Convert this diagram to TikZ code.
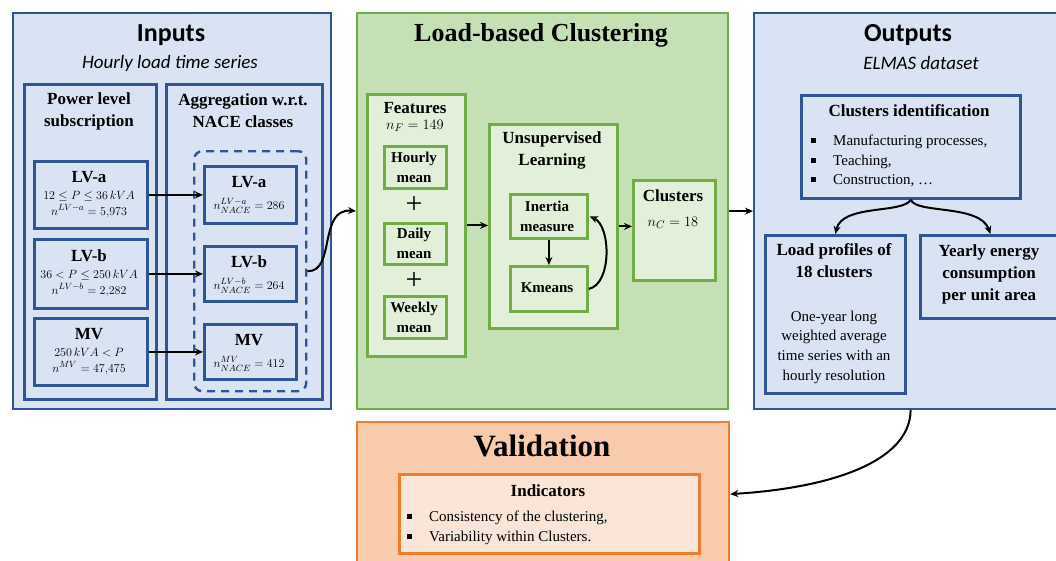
\documentclass[tikz,border=0pt]{standalone}
\usepackage{fontspec}
\setmainfont{Liberation Serif}
\newfontfamily\calibri{Carlito}
\usetikzlibrary{arrows.meta,shadows}

\definecolor{bluedraw}{HTML}{2F5597}
\definecolor{bluefill}{HTML}{DAE3F3}
\definecolor{greendraw}{HTML}{70AD47}
\definecolor{greenfill}{HTML}{C5E0B4}
\definecolor{greenlight}{HTML}{E2F0D9}
\definecolor{orangedraw}{HTML}{ED7D31}
\definecolor{orangefill}{HTML}{F8CBAD}
\definecolor{orangelight}{HTML}{FBE5D6}

\newcommand{\sqbullet}{\raisebox{2.6pt}{\rule{5pt}{5pt}}\hspace{17pt}}

\begin{document}
\begin{tikzpicture}[x=1pt,y=-1pt,
  panel/.style={draw, line width=2.2pt, rectangle, inner sep=0pt, anchor=north west},
  bluepanel/.style={panel, draw=bluedraw, fill=bluefill},
  greenpanel/.style={panel, draw=greendraw, fill=greenfill},
  orangepanel/.style={panel, draw=orangedraw, fill=orangefill},
  bluebox/.style={panel, draw=bluedraw, fill=bluefill, line width=2.8pt},
  greenbox/.style={panel, draw=greendraw, fill=greenlight, line width=2.8pt},
  shadebox/.style={greenbox, drop shadow={opacity=0.3, shadow xshift=2pt, shadow yshift=-2pt}},
  orangebox/.style={panel, draw=orangedraw, fill=orangelight, line width=2.8pt},
  arr/.style={-{Stealth[length=8pt,width=7pt]}, line width=2pt},
  carltitle/.style={font=\calibri\fontsize{26}{30}\selectfont\bfseries},
  carlsub/.style={font=\calibri\fontsize{19}{22}\selectfont\itshape},
  bigtitle/.style={font=\fontsize{26}{30}\selectfont\bfseries},
  head/.style={font=\fontsize{17}{22}\selectfont\bfseries, align=center, inner sep=0pt},
  small/.style={font=\fontsize{15}{20}\selectfont\bfseries, align=center, inner sep=0pt},
  mth/.style={font=\fontsize{12.5}{16}\selectfont, align=center, inner sep=0pt},
  mthR/.style={font=\fontsize{13}{16}\selectfont, align=center, inner sep=0pt},
  body/.style={font=\fontsize{15}{20}\selectfont, inner sep=0pt},
]
\useasboundingbox (0,0) rectangle (1056,560);
\clip (0,0) rectangle (1056,560);
\fill[white] (0,0) rectangle (1056,560);

% ---------- panels ----------
\node[bluepanel, minimum width=318pt, minimum height=396pt] (inputs) at (12,12) {};
\node[greenpanel, minimum width=371pt, minimum height=396pt] (clust) at (356,12) {};
\node[bluepanel, minimum width=317pt, minimum height=396pt] (outputs) at (753,12) {};
\node[orangepanel, minimum width=372pt, minimum height=144pt] (valid) at (356,421) {};

\node[carltitle] (tin) at (171,35) {Inputs};
\node[carlsub] (sin) at (170,63) {Hourly load time series};
\node[bigtitle] (tcl) at (541,35) {Load-based Clustering};
\node[carltitle] (tout) at (908,35) {Outputs};
\node[carlsub] (sout) at (921,63) {ELMAS dataset};

% ---------- inputs ----------
\node[bluebox, minimum width=132pt, minimum height=315pt] (power) at (23,83) {};
\node[bluebox, minimum width=156pt, minimum height=315pt] (aggr) at (165,83) {};
\node[head] (tpower) at (89,111) {Power level\\subscription};
\node[head] (taggr) at (243,111) {Aggregation w.r.t.\\NACE classes};

\node[bluebox, minimum width=113pt, minimum height=67pt] (lvaL) at (33,160) {};
\node[bluebox, minimum width=113pt, minimum height=69pt] (lvbL) at (33,238) {};
\node[bluebox, minimum width=113pt, minimum height=67pt] (mvL) at (33,317) {};

\node[head] (tlvaL) at (89,177) {LV-a};
\node[mth] (mlvaL) at (89,204) {$12 \le P \le 36\,kVA$\\$n^{LV-a} = 5{,}973$};
\node[head] (tlvbL) at (89,256) {LV-b};
\node[mth] (mlvbL) at (89,283) {$36 < P \le 250\,kVA$\\$n^{LV-b} = 2{,}282$};
\node[head] (tmvL) at (89,334) {MV};
\node[mth] (mmvL) at (89,361) {$250\,kVA < P$\\$n^{MV} = 47{,}475$};

\node[draw=bluedraw, line width=2.4pt, dash pattern=on 8pt off 6pt, rounded corners=8pt,
      rectangle, minimum width=112pt, minimum height=240pt, anchor=north west] (group) at (193,150) {};

\node[bluebox, minimum width=92pt, minimum height=57pt] (lvaR) at (203,165) {};
\node[bluebox, minimum width=92pt, minimum height=55pt] (lvbR) at (203,245) {};
\node[bluebox, minimum width=92pt, minimum height=55pt] (mvR) at (203,323) {};

\node[head] (tlvaR) at (249,182) {LV-a};
\node[mthR] (mlvaR) at (249,206) {$n^{LV-a}_{NACE} = 286$};
\node[head] (tlvbR) at (249,262) {LV-b};
\node[mthR] (mlvbR) at (249,286) {$n^{LV-b}_{NACE} = 264$};
\node[head] (tmvR) at (249,340) {MV};
\node[mthR] (mmvR) at (249,364) {$n^{\raisebox{0.8pt}{$\scriptstyle MV$}}_{NACE} = 412$};

\draw[arr] (lvaL.east) -- (lvaR.west);
\draw[arr] (lvbL.east) -- (lvbR.west);
\draw[arr] (mvL.east) -- (mvR.west);

% ---------- clustering ----------
\node[greenbox, minimum width=98pt, minimum height=262pt] (feat) at (366,93) {};
\node[head] (tfeat) at (415,108) {Features};
\node[mth, font=\fontsize{15}{18}\selectfont] (nfeat) at (415,126) {$n_F = 149$};

\node[shadebox, minimum width=62pt, minimum height=42pt] (hourly) at (383,145) {};
\node[small] (thourly) at (414,167) {Hourly\\mean};
\node[font=\fontsize{30}{30}\selectfont, inner sep=0pt] (plusA) at (414,205) {+};
\node[shadebox, minimum width=62pt, minimum height=41pt] (daily) at (383,222) {};
\node[small] (tdaily) at (414,243) {Daily\\mean};
\node[font=\fontsize{30}{30}\selectfont, inner sep=0pt] (plusB) at (414,281) {+};
\node[shadebox, minimum width=62pt, minimum height=42pt] (weekly) at (383,295) {};
\node[small] (tweekly) at (414,317) {Weekly\\mean};

\node[greenbox, minimum width=128pt, minimum height=204pt] (unsup) at (488,123) {};
\node[head] (tunsup) at (552,150) {Unsupervised\\Learning};

\node[shadebox, minimum width=77pt, minimum height=44pt] (inertia) at (509,193) {};
\node[small] (tinertia) at (547,216) {Inertia\\measure};
\node[shadebox, minimum width=77pt, minimum height=45pt] (kmeans) at (509,265) {};
\node[small] (tkmeans) at (547,288) {Kmeans};

\node[greenbox, minimum width=82pt, minimum height=100pt] (clusters) at (632,179) {};
\node[head] (tclusters) at (673,196) {Clusters};
\node[mth, font=\fontsize{15}{18}\selectfont] (nclusters) at (673,223) {$n_C = 18$};

\draw[arr] (feat.east) -- (unsup.west |- feat.east);
\draw[arr] (inertia.south) -- (kmeans.north);
\draw[arr] (kmeans.east) .. controls (612,284) and (611,226) .. ([xshift=1pt]inertia.east);
\draw[arr] (unsup.east) -- (clusters.west |- unsup.east);

% ---------- outputs ----------
\node[bluebox, minimum width=219pt, minimum height=103pt] (ident) at (800,94) {};
\node[head] (tident) at (909,111) {Clusters identification};
\node[body, anchor=west] (bA) at (811,142) {\sqbullet Manufacturing processes,};
\node[body, anchor=west] (bB) at (811,162) {\sqbullet Teaching,};
\node[body, anchor=west] (bC) at (811,181) {\sqbullet Construction, \dots};

\node[bluebox, minimum width=140pt, minimum height=158pt] (profiles) at (764,234) {};
\node[head] (tprofiles) at (834,261) {Load profiles of\\18 clusters};
\node[body, align=center, font=\fontsize{15}{19.7}\selectfont] (dprofiles) at (834,347)
  {One-year long\\weighted average\\time series with an\\hourly resolution};

\node[bluebox, minimum width=140pt, minimum height=83pt] (yearly) at (919,234) {};
\node[head] (tyearly) at (989,274) {Yearly energy\\consumption\\per unit area};

\draw[arr] (ident.south) .. controls (902,214) and (842,204) .. (profiles.north);
\draw[arr] (ident.south) .. controls (916,214) and (980,204) .. (yearly.north);

% ---------- validation ----------
\node[font=\fontsize{31}{34}\selectfont\bfseries] (tvalid) at (542,446) {Validation};
\node[orangebox, minimum width=300pt, minimum height=79pt] (indic) at (398,473) {};
\node[head] (tindic) at (548,491) {Indicators};
\node[body, anchor=west] (vA) at (407,518) {\sqbullet Consistency of the clustering,};
\node[body, anchor=west] (vB) at (407,538) {\sqbullet Variability within Clusters.};

% ---------- flow between panels ----------
\draw[arr] (group.east) .. controls (336,272) and (318,208) .. (clust.west);
\draw[arr] (clust.east) -- (outputs.west);
\draw[arr] ([xshift=-2pt]outputs.south) .. controls (910,462) and (830,488) .. (valid.east);
\end{tikzpicture}
\end{document}
